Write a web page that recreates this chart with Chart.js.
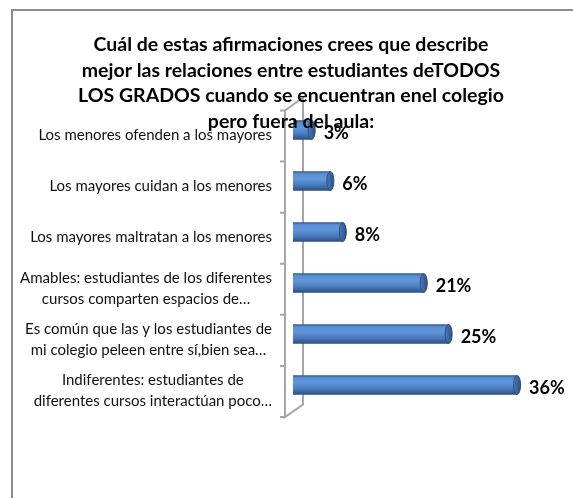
<!DOCTYPE html>
<html lang="es">
<head>
  <meta charset="UTF-8">
  <title>Relaciones entre estudiantes</title>
  <script src="https://cdn.jsdelivr.net/npm/chart.js"></script>
  <style>
    body {
      margin: 0;
      background: #fff;
    }
    #wrap {
      width: 573px;
      height: 498px;
      overflow: hidden;
    }
  </style>
</head>
<body>
  <div id="wrap">
    <canvas id="barChart" width="573" height="498"></canvas>
  </div>

  <script>
    const titleLines = [
      "Cuál de estas afirmaciones crees que describe",
      "mejor las relaciones entre estudiantes deTODOS",
      "LOS GRADOS cuando se encuentran enel colegio",
      "pero fuera del aula:"
    ];

    const categories = [
      ["Los menores ofenden a los mayores"],
      ["Los mayores cuidan a los menores"],
      ["Los mayores maltratan a los menores"],
      ["Amables: estudiantes de los diferentes", "cursos comparten espacios de…"],
      ["Es común que las y los estudiantes de", "mi colegio peleen entre sí,bien sea…"],
      ["Indiferentes: estudiantes de", "diferentes cursos interactúan poco…"]
    ];

    const percentages = [3, 6, 8, 21, 25, 36];

    const BAR_H = 19;
    const FONT = "Lato, 'Open Sans', sans-serif";

    // fondo blanco y marco gris del gráfico
    const frame = {
      id: "frame",
      beforeDraw(chart) {
        const c = chart.ctx;
        c.save();
        c.fillStyle = "#fff";
        c.fillRect(0, 0, chart.width, chart.height);
        c.strokeStyle = "#8c8c8c";
        c.lineWidth = 2;
        c.strokeRect(12, 10, 1000, 1000);
        c.restore();
      }
    };

    // pared 3D del eje de categorías
    const wall = {
      id: "wall",
      beforeDatasetsDraw(chart) {
        const c = chart.ctx;
        const a = chart.chartArea;
        const fx = a.left - 8, bx = a.left + 10;
        const ft = a.top + 6, fb = a.bottom + 6.5;
        const bt = a.top - 7, bb = a.bottom - 6;
        c.save();
        c.strokeStyle = "#a6a6a6";
        c.lineWidth = 2;
        c.beginPath();
        c.moveTo(fx, ft); c.lineTo(fx, fb); c.lineTo(bx, bb); c.lineTo(bx, bt); c.lineTo(fx, ft);
        c.stroke();
        const band = (fb - ft) / categories.length;
        c.beginPath();
        for (let i = 0; i <= categories.length; i++) {
          const y = ft + i * band;
          c.moveTo(fx - 5, y);
          c.lineTo(fx, y);
        }
        c.stroke();
        c.restore();
      }
    };

    // tapas de los cilindros, porcentajes y etiquetas
    const decorate = {
      id: "decorate",
      afterDatasetsDraw(chart) {
        const c = chart.ctx;
        const meta = chart.getDatasetMeta(0);
        c.save();
        meta.data.forEach((bar, i) => {
          const p = bar.getProps(["x", "y", "base", "height"], true);
          const h = p.height / 2;
          const g = c.createLinearGradient(p.x - 3, 0, p.x + 3, 0);
          g.addColorStop(0, "#4a78b4");
          g.addColorStop(1, "#2f5387");
          c.fillStyle = g;
          c.strokeStyle = "#2c4d7c";
          c.lineWidth = 1;
          c.beginPath();
          c.ellipse(p.x, p.y, 3.5, h, 0, 0, Math.PI * 2);
          c.fill();
          c.stroke();

          c.fillStyle = "#000";
          c.font = "bold 18px " + FONT;
          c.textAlign = "left";
          c.textBaseline = "middle";
          c.fillText(percentages[i] + "%", p.x + 12, p.y + 3);
        });

        const ys = chart.scales.y;
        const right = chart.chartArea.left - 21;
        c.font = "15px " + FONT;
        c.fillStyle = "#111";
        c.textBaseline = "middle";
        c.textAlign = "center";
        categories.forEach((lines, i) => {
          const widest = Math.max(...lines.map(l => c.measureText(l).width));
          const cx = right - widest / 2;
          const cy = ys.getPixelForValue(i) + 5.5;
          const lh = 20.5;
          lines.forEach((l, k) => {
            c.fillText(l, cx, cy + (k - (lines.length - 1) / 2) * lh);
          });
        });
        c.restore();
      },
      afterDraw(chart) {
        const c = chart.ctx;
        c.save();
        c.font = "bold 19.5px " + FONT;
        c.fillStyle = "#000";
        c.textAlign = "center";
        c.textBaseline = "middle";
        titleLines.forEach((t, i) => c.fillText(t, 291, 45 + i * 25.6));
        c.restore();
      }
    };

    new Chart(document.getElementById("barChart"), {
      type: "bar",
      data: {
        labels: categories,
        datasets: [{
          label: "Respuestas",
          data: percentages,
          barThickness: BAR_H,
          borderWidth: 0,
          backgroundColor(ctx) {
            const chart = ctx.chart;
            if (!chart.chartArea) return "#4f81bd";
            const y = chart.scales.y.getPixelForValue(ctx.dataIndex);
            const g = chart.ctx.createLinearGradient(0, y - BAR_H / 2, 0, y + BAR_H / 2);
            g.addColorStop(0, "#2f5a92");
            g.addColorStop(0.12, "#5b8fd4");
            g.addColorStop(0.4, "#6096da");
            g.addColorStop(0.75, "#4676b8");
            g.addColorStop(1, "#2b4f82");
            return g;
          }
        }]
      },
      options: {
        responsive: false,
        animation: false,
        indexAxis: "y",
        layout: {
          padding: { left: 293, right: 31, top: 104.5, bottom: 87.5 }
        },
        scales: {
          x: {
            display: false,
            min: 0,
            max: 40
          },
          y: {
            display: false
          }
        },
        plugins: {
          legend: { display: false },
          tooltip: { enabled: false },
          title: { display: false }
        }
      },
      plugins: [frame, wall, decorate]
    });
  </script>
</body>
</html>
